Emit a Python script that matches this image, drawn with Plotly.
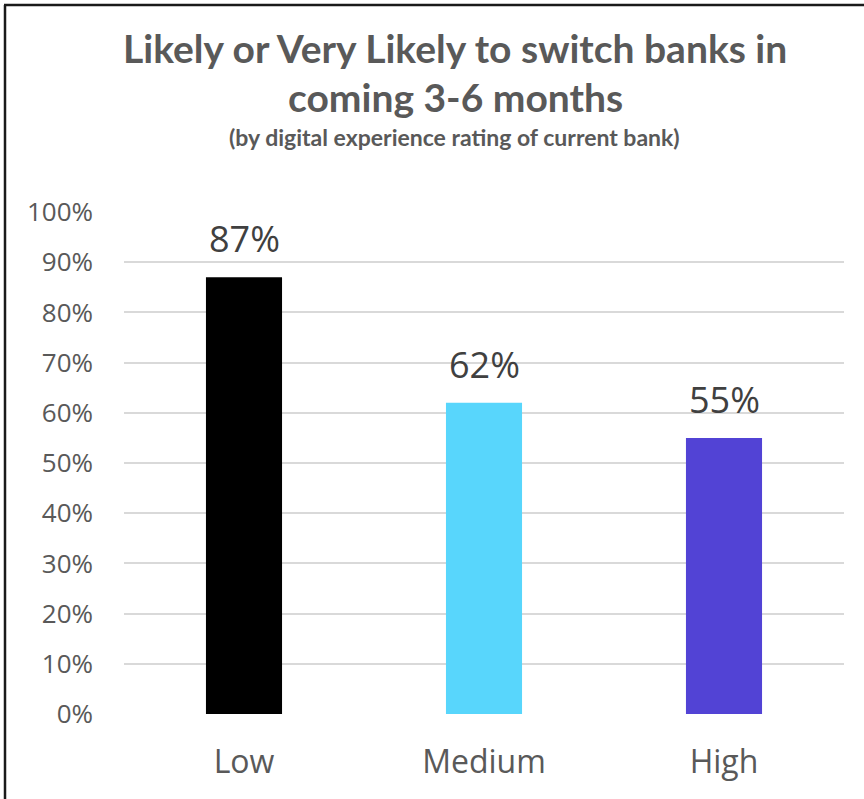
import plotly.graph_objects as go

categories = ["Low", "Medium", "High"]
values = [87, 62, 55]
bar_colors = ["#000000", "#58D6FC", "#5243D5"]
tick_vals = [0, 10, 20, 30, 40, 50, 60, 70, 80, 90, 100]
tick_text = [f"{v}%" for v in tick_vals]
title_line1 = "Likely or Very Likely to switch banks in"
title_line2 = "coming 3-6 months"
subtitle = "(by digital experience rating of current bank)"

W, H = 864, 799
L, R, T, B = 124, 20, 212, 85

fig = go.Figure()
fig.add_trace(go.Bar(
    x=categories, y=values, marker=dict(color=bar_colors, line=dict(width=0)),
    width=0.317, hoverinfo="skip",
))

for c, v in zip(categories, values):
    fig.add_annotation(x=c, y=v, xref="x", yref="y", text=f"{v}%", showarrow=False,
                       yanchor="bottom", yshift=12,
                       font=dict(family="Open Sans", size=36, color="#404040"))

pw = W - L - R
ph = H - T - B
def px2x(px):
    return (px - L) / pw
def py2y(py):
    return (H - B - py) / ph

fig.add_annotation(x=px2x(455), y=py2y(48), xref="paper", yref="paper", text=f"<b>{title_line1}</b>",
                   showarrow=False, xanchor="center", yanchor="middle",
                   font=dict(family="Lato", size=39, color="#595959"))
fig.add_annotation(x=px2x(455), y=py2y(97), xref="paper", yref="paper", text=f"<b>{title_line2}</b>",
                   showarrow=False, xanchor="center", yanchor="middle",
                   font=dict(family="Lato", size=39, color="#595959"))
fig.add_annotation(x=px2x(454), y=py2y(137), xref="paper", yref="paper", text=f"<b>{subtitle}</b>",
                   showarrow=False, xanchor="center", yanchor="middle",
                   font=dict(family="Lato", size=23, color="#595959"))

# border (left and top)
fig.add_shape(type="line", xref="paper", yref="paper", x0=px2x(5), x1=px2x(5), y0=py2y(5), y1=py2y(H + 10),
              line=dict(color="#1a1a1a", width=2.5))
fig.add_shape(type="line", xref="paper", yref="paper", x0=px2x(4), x1=px2x(W + 10), y0=py2y(5), y1=py2y(5),
              line=dict(color="#1a1a1a", width=2.5))

fig.update_layout(
    width=W, height=H,
    margin=dict(l=L, r=R, t=T, b=B, pad=0),
    paper_bgcolor="white", plot_bgcolor="white",
    showlegend=False,
    bargap=0.68,
    xaxis=dict(showgrid=False, zeroline=False, showline=False, ticks="",
               tickfont=dict(family="Open Sans", size=32, color="#595959"),
               ticklabelstandoff=26, fixedrange=True),
    yaxis=dict(range=[0, 100], tickvals=tick_vals, ticktext=tick_text,
               showgrid=True, gridcolor="#D9D9D9", gridwidth=2,
               zeroline=False, showline=False, ticks="",
               tickfont=dict(family="Open Sans", size=26, color="#595959"),
               ticklabelstandoff=30, fixedrange=True),
)

fig.write_html("out.html", config={"displayModeBar": False})
